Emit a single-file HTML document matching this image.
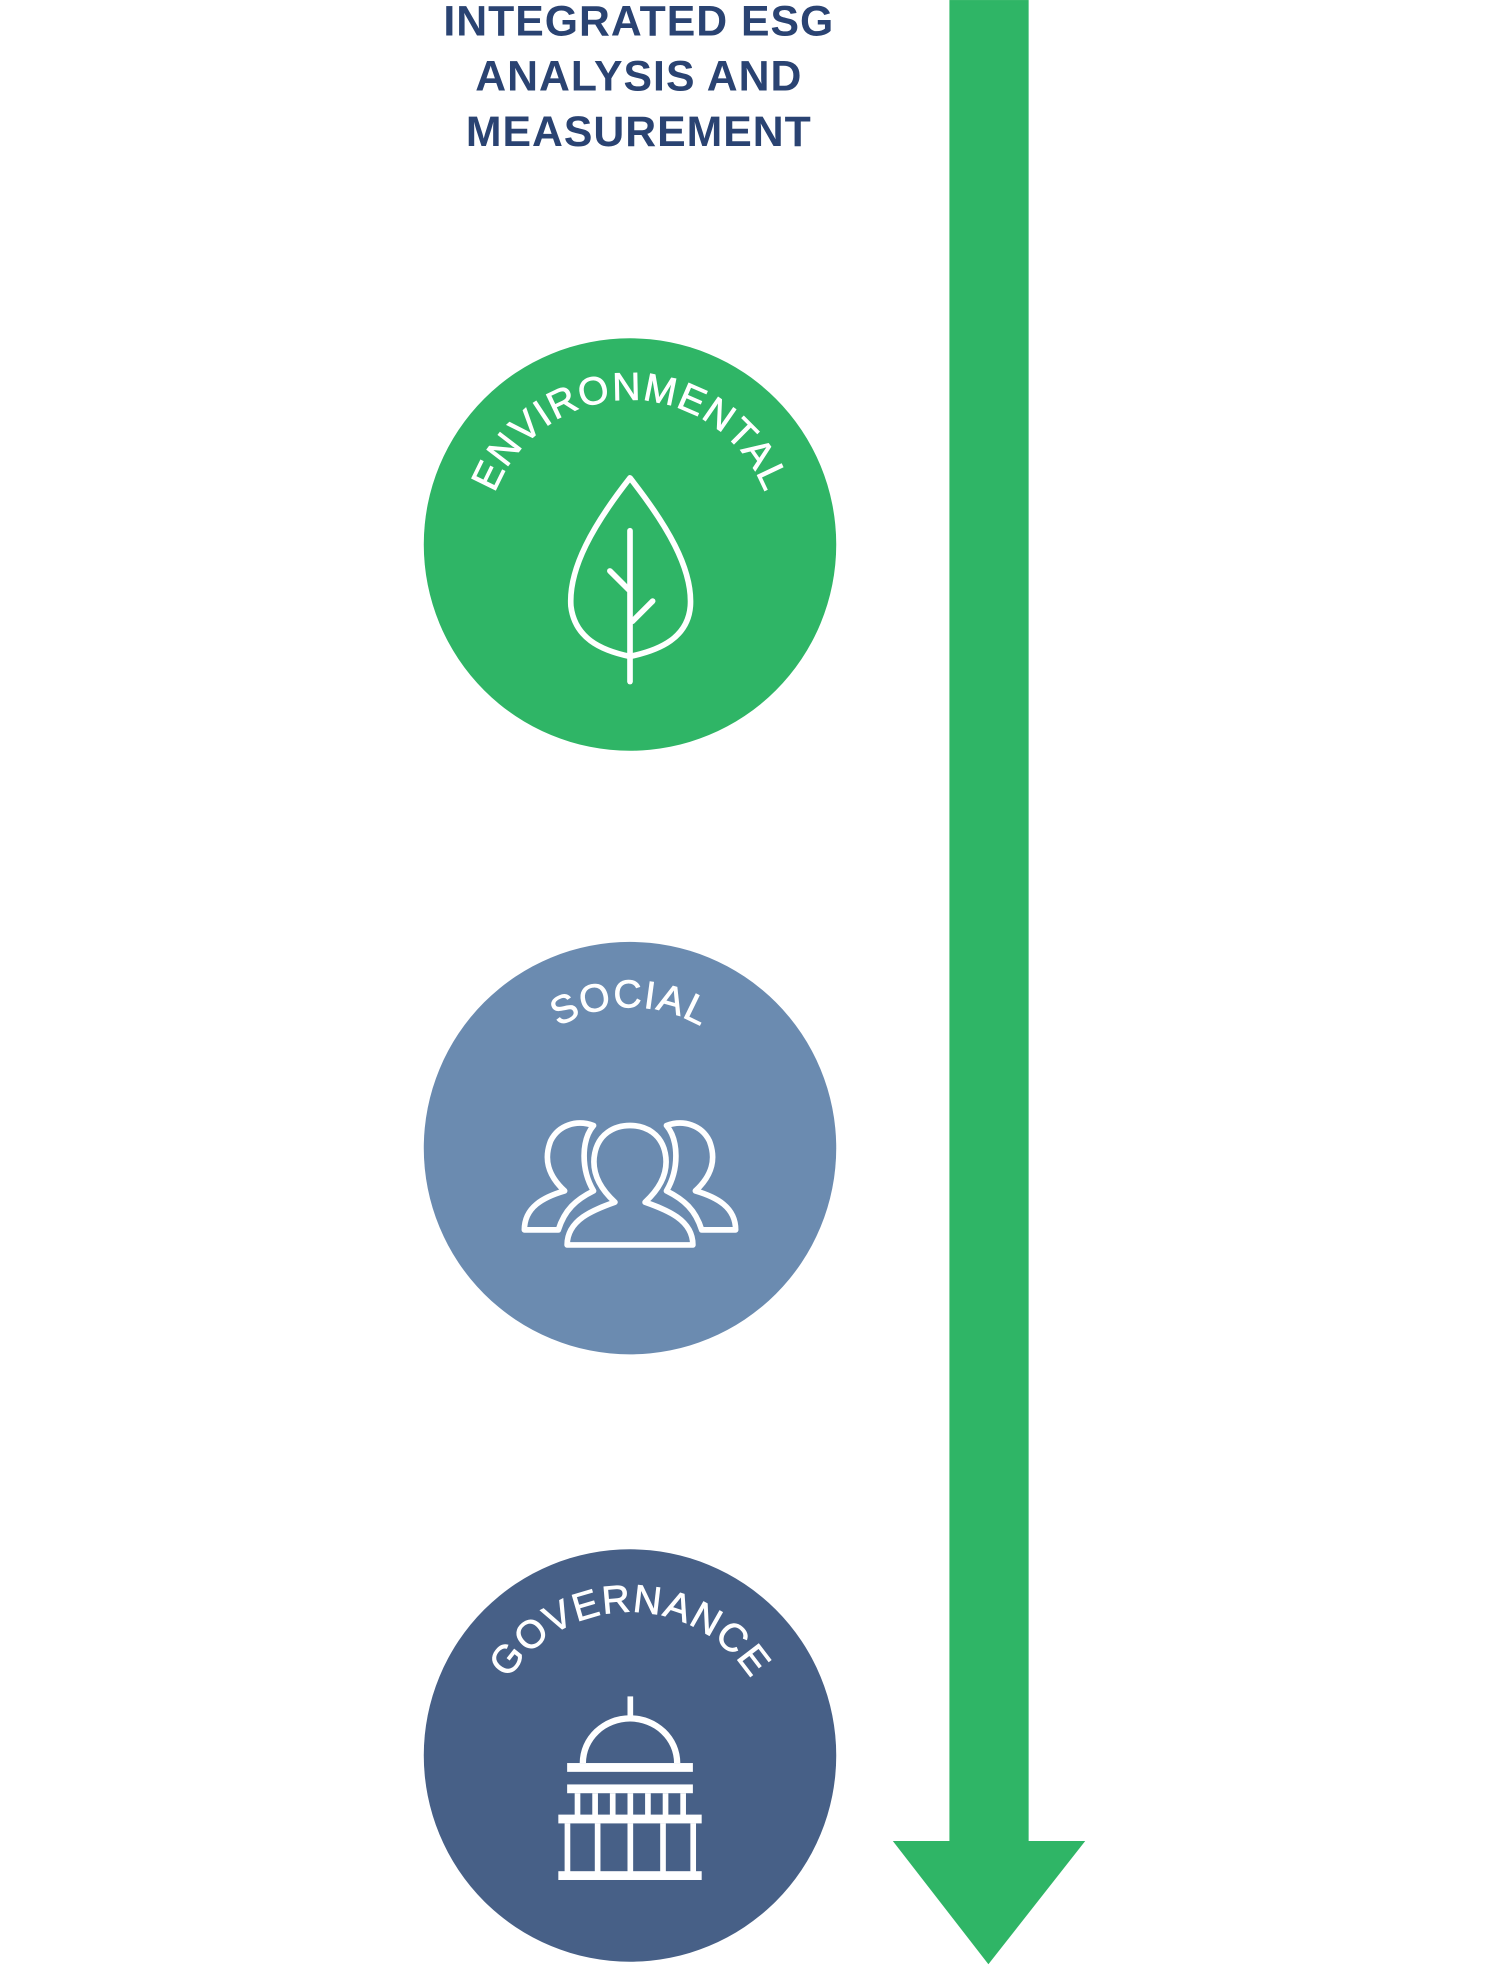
<!DOCTYPE html>
<html><head><meta charset="utf-8"><style>
html,body{margin:0;padding:0;background:#fff;}
svg{display:block;}
</style></head><body>
<svg width="1509" height="1980" viewBox="0 0 1200 1574.5" xmlns="http://www.w3.org/2000/svg">
<defs>
<path id="a1" d="M384,431 A115,115 0 0 1 614,431"/>
<path id="a2" d="M387,911 A112,112 0 0 1 611,911"/>
<path id="a3" d="M385,1394 A114,114 0 0 1 613,1394"/>
</defs>
<g font-family="Liberation Sans, sans-serif" font-weight="bold" font-size="34" fill="#2a4372" text-anchor="middle" letter-spacing="0.8">
<text x="508" y="28">INTEGRATED ESG</text>
<text x="508" y="72">ANALYSIS AND</text>
<text x="508" y="116">MEASUREMENT</text>
</g>
<rect x="755" y="0" width="63" height="1465" fill="#2fb566"/>
<polygon points="710,1464 863,1464 786,1562" fill="#2fb566"/>

<g transform="translate(2,2)">
<circle cx="499" cy="431" r="164" fill="#2fb566"/>
<circle cx="499" cy="911" r="164" fill="#6b8bb0"/>
<circle cx="499" cy="1394" r="164" fill="#476087"/>

<g font-family="Liberation Sans, sans-serif" font-size="31" fill="#fff" stroke="#fff" stroke-width="0.6" text-anchor="middle">
<text letter-spacing="1"><textPath href="#a1" startOffset="50%">ENVIRONMENTAL</textPath></text>
<text letter-spacing="1"><textPath href="#a2" startOffset="50%">SOCIAL</textPath></text>
<text letter-spacing="1"><textPath href="#a3" startOffset="50%">GOVERNANCE</textPath></text>
</g>

<g stroke="#fff" stroke-width="4.5" fill="none" stroke-linecap="round" stroke-linejoin="round">
<path d="M499,378 C470,415 450,450 452,480 C455,505 475,515 499,520 C523,515 545,505 547,480 C549,450 528,415 499,378 Z"/>
<line x1="499" y1="420" x2="499" y2="540"/>
<line x1="483" y1="452" x2="498" y2="467"/>
<line x1="517" y1="476" x2="501" y2="492"/>
</g>

<g stroke="#fff" stroke-width="4.5" fill="#6b8bb0" stroke-linejoin="round">
<path d="M415,976 C415,958 430,950 447,945 C434,933 430,920 436,905 C442,893 456,888 470,893 C460,905 460,928 470,945 C456,952 447,960 442,976 Z"/>
<path d="M583,976 C583,958 568,950 551,945 C564,933 568,920 562,905 C556,893 542,888 528,893 C538,905 538,928 528,945 C542,952 551,960 556,976 Z"/>
<path d="M449,988 C449,968 470,960 487,954 C475,943 468,930 471,915 C474,900 486,893 499,893 C512,893 524,900 527,915 C530,930 523,943 511,954 C528,960 549,968 549,988 Z"/>
</g>

<g fill="#fff">
<rect x="497" y="1347" width="4.5" height="16"/>
<path d="M459,1400 A40,38 0 0 1 539,1400 L534,1400 A35,33 0 0 0 464,1400 Z"/>
<rect x="449" y="1400" width="100" height="7"/>
<rect x="449" y="1417" width="100" height="7"/>
<rect x="455" y="1424" width="4.5" height="18"/>
<rect x="469" y="1424" width="4.5" height="18"/>
<rect x="483" y="1424" width="4.5" height="18"/>
<rect x="497" y="1424" width="4.5" height="18"/>
<rect x="511" y="1424" width="4.5" height="18"/>
<rect x="525" y="1424" width="4.5" height="18"/>
<rect x="539" y="1424" width="4.5" height="18"/>
<rect x="442" y="1441" width="114" height="7"/>
<rect x="447" y="1448" width="4.5" height="39"/>
<rect x="471" y="1448" width="4.5" height="39"/>
<rect x="497" y="1448" width="4.5" height="39"/>
<rect x="523" y="1448" width="4.5" height="39"/>
<rect x="547" y="1448" width="4.5" height="39"/>
<rect x="442" y="1486" width="114" height="7"/>
</g>
</g>
</svg>
</body></html>
